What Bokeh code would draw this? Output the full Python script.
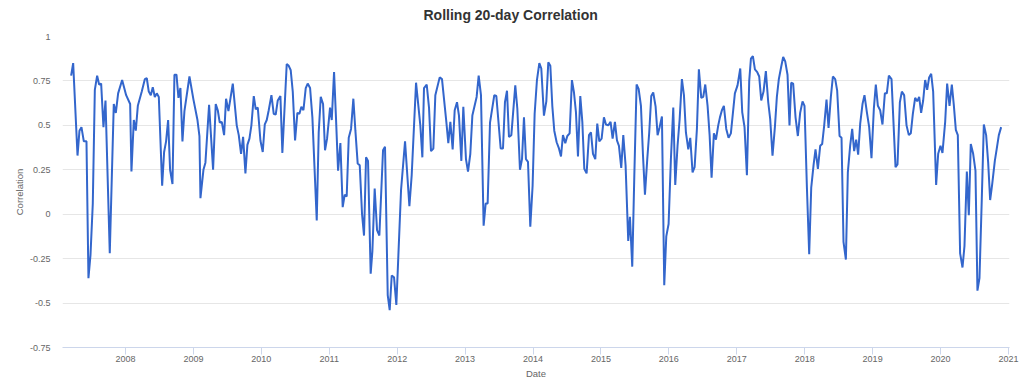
from bokeh.plotting import figure
from bokeh.models import Range1d, FixedTicker, CustomJSTickFormatter, ColumnDataSource, Title
from bokeh.embed import file_html
from bokeh.resources import INLINE

TITLE = "Rolling 20-day Correlation"
X_LABEL = "Date"
Y_LABEL = "Correlation"

# Dates as decimal years
dates = [
    2007.200, 2007.230, 2007.294, 2007.323, 2007.352, 2007.387, 2007.426, 2007.455, 2007.485, 2007.519,
    2007.549, 2007.583, 2007.612, 2007.642, 2007.676, 2007.706, 2007.769, 2007.828, 2007.858, 2007.892,
    2007.951, 2008.010, 2008.069, 2008.088, 2008.123, 2008.152, 2008.182, 2008.240, 2008.285, 2008.314,
    2008.343, 2008.373, 2008.402, 2008.432, 2008.461, 2008.491, 2008.540, 2008.569, 2008.598, 2008.628,
    2008.657, 2008.692, 2008.721, 2008.751, 2008.780, 2008.809, 2008.839, 2008.868, 2008.942, 2009.001,
    2009.060, 2009.089, 2009.104, 2009.148, 2009.177, 2009.231, 2009.290, 2009.329, 2009.359, 2009.388,
    2009.418, 2009.452, 2009.481, 2009.516, 2009.580, 2009.638, 2009.668, 2009.702, 2009.732, 2009.766,
    2009.795, 2009.825, 2009.854, 2009.889, 2009.918, 2009.948, 2009.987, 2010.021, 2010.051, 2010.080,
    2010.109, 2010.149, 2010.183, 2010.212, 2010.242, 2010.281, 2010.310, 2010.374, 2010.404, 2010.433,
    2010.463, 2010.497, 2010.531, 2010.561, 2010.590, 2010.620, 2010.654, 2010.683, 2010.718, 2010.752,
    2010.816, 2010.845, 2010.875, 2010.909, 2010.938, 2010.968, 2011.012, 2011.037, 2011.071, 2011.100,
    2011.130, 2011.164, 2011.198, 2011.228, 2011.257, 2011.287, 2011.321, 2011.355, 2011.385, 2011.419,
    2011.449, 2011.483, 2011.512, 2011.542, 2011.571, 2011.610, 2011.635, 2011.669, 2011.704, 2011.738,
    2011.792, 2011.821, 2011.861, 2011.890, 2011.920, 2011.954, 2011.988, 2012.057, 2012.116, 2012.180,
    2012.214, 2012.278, 2012.341, 2012.371, 2012.395, 2012.435, 2012.469, 2012.498, 2012.533, 2012.562,
    2012.626, 2012.660, 2012.724, 2012.753, 2012.783, 2012.817, 2012.847, 2012.881, 2012.910, 2012.945,
    2012.974, 2013.013, 2013.043, 2013.077, 2013.107, 2013.170, 2013.200, 2013.234, 2013.273, 2013.303,
    2013.332, 2013.367, 2013.430, 2013.460, 2013.524, 2013.558, 2013.587, 2013.617, 2013.646, 2013.681,
    2013.739, 2013.769, 2013.808, 2013.838, 2013.867, 2013.896, 2013.926, 2013.960, 2013.994, 2014.024,
    2014.058, 2014.093, 2014.122, 2014.161, 2014.196, 2014.225, 2014.255, 2014.284, 2014.313, 2014.348,
    2014.382, 2014.412, 2014.441, 2014.475, 2014.505, 2014.539, 2014.573, 2014.603, 2014.632, 2014.662,
    2014.696, 2014.726, 2014.755, 2014.789, 2014.824, 2014.853, 2014.883, 2014.917, 2014.946, 2014.976,
    2015.010, 2015.044, 2015.074, 2015.108, 2015.142, 2015.172, 2015.206, 2015.236, 2015.265, 2015.299,
    2015.329, 2015.363, 2015.402, 2015.427, 2015.461, 2015.491, 2015.525, 2015.555, 2015.589, 2015.618,
    2015.648, 2015.682, 2015.711, 2015.741, 2015.770, 2015.805, 2015.834, 2015.864, 2015.898, 2015.932,
    2015.962, 2015.996, 2016.030, 2016.065, 2016.094, 2016.128, 2016.158, 2016.192, 2016.222, 2016.251,
    2016.286, 2016.315, 2016.349, 2016.379, 2016.413, 2016.442, 2016.477, 2016.506, 2016.536, 2016.570,
    2016.600, 2016.629, 2016.663, 2016.693, 2016.727, 2016.752, 2016.781, 2016.810, 2016.845, 2016.879,
    2016.913, 2016.972, 2017.011, 2017.051, 2017.080, 2017.114, 2017.149, 2017.183, 2017.208, 2017.237,
    2017.267, 2017.301, 2017.330, 2017.360, 2017.394, 2017.428, 2017.463, 2017.492, 2017.526, 2017.561,
    2017.590, 2017.619, 2017.654, 2017.683, 2017.713, 2017.747, 2017.776, 2017.801, 2017.830, 2017.865,
    2017.899, 2017.933, 2017.968, 2017.997, 2018.032, 2018.066, 2018.096, 2018.130, 2018.159, 2018.194,
    2018.228, 2018.257, 2018.287, 2018.321, 2018.351, 2018.385, 2018.415, 2018.449, 2018.478, 2018.513,
    2018.542, 2018.571, 2018.606, 2018.635, 2018.669, 2018.699, 2018.728, 2018.758, 2018.787, 2018.817,
    2018.851, 2018.880, 2018.915, 2018.949, 2018.983, 2019.018, 2019.047, 2019.077, 2019.111, 2019.145,
    2019.180, 2019.209, 2019.239, 2019.278, 2019.337, 2019.366, 2019.401, 2019.430, 2019.464, 2019.499,
    2019.533, 2019.562, 2019.592, 2019.626, 2019.656, 2019.685, 2019.714, 2019.744, 2019.773, 2019.803,
    2019.832, 2019.862, 2019.891, 2019.935, 2019.965, 2019.999, 2020.028, 2020.068, 2020.097, 2020.132,
    2020.166, 2020.195, 2020.225, 2020.254, 2020.288, 2020.323, 2020.352, 2020.387, 2020.416, 2020.445,
    2020.480, 2020.514, 2020.543, 2020.573, 2020.607, 2020.637, 2020.671, 2020.701, 2020.730, 2020.759,
    2020.799, 2020.828, 2020.858, 2020.892,
]

correlation = [
    0.78, 0.85, 0.33, 0.47, 0.49, 0.41, 0.41, -0.36, -0.23, 0.06,
    0.70, 0.78, 0.73, 0.735, 0.49, 0.64, -0.22, 0.62, 0.57, 0.68,
    0.755, 0.67, 0.62, 0.24, 0.53, 0.47, 0.61, 0.69, 0.76, 0.765,
    0.69, 0.67, 0.715, 0.66, 0.68, 0.66, 0.16, 0.35, 0.41, 0.53,
    0.25, 0.17, 0.785, 0.785, 0.655, 0.71, 0.41, 0.58, 0.775, 0.645,
    0.53, 0.44, 0.09, 0.25, 0.29, 0.615, 0.25, 0.62, 0.585, 0.515,
    0.52, 0.445, 0.65, 0.58, 0.735, 0.50, 0.445, 0.34, 0.435, 0.23,
    0.39, 0.425, 0.50, 0.665, 0.59, 0.60, 0.415, 0.35, 0.505, 0.53,
    0.585, 0.67, 0.565, 0.56, 0.64, 0.665, 0.345, 0.845, 0.835, 0.81,
    0.69, 0.415, 0.57, 0.565, 0.605, 0.585, 0.71, 0.735, 0.71, 0.545,
    -0.035, 0.46, 0.66, 0.62, 0.36, 0.425, 0.60, 0.53, 0.80, 0.535,
    0.245, 0.40, 0.04, 0.11, 0.10, 0.43, 0.48, 0.65, 0.47, 0.285,
    0.275, 0.0, -0.12, 0.32, 0.30, -0.335, -0.21, 0.145, -0.09, -0.12,
    0.36, 0.38, -0.455, -0.54, -0.345, -0.355, -0.51, 0.135, 0.41, 0.045,
    0.22, 0.74, 0.50, 0.32, 0.71, 0.73, 0.60, 0.355, 0.37, 0.67,
    0.77, 0.76, 0.52, 0.40, 0.52, 0.365, 0.585, 0.63, 0.555, 0.30,
    0.605, 0.31, 0.24, 0.34, 0.555, 0.66, 0.78, 0.67, -0.065, 0.06,
    0.06, 0.515, 0.67, 0.665, 0.37, 0.37, 0.63, 0.695, 0.435, 0.445,
    0.725, 0.595, 0.25, 0.31, 0.545, 0.31, 0.295, -0.07, 0.16, 0.565,
    0.755, 0.85, 0.82, 0.555, 0.635, 0.855, 0.835, 0.61, 0.47, 0.405,
    0.37, 0.325, 0.445, 0.40, 0.44, 0.455, 0.755, 0.685, 0.575, 0.325,
    0.665, 0.52, 0.255, 0.23, 0.445, 0.46, 0.34, 0.31, 0.51, 0.41,
    0.425, 0.545, 0.505, 0.50, 0.52, 0.425, 0.52, 0.415, 0.385, 0.26,
    0.445, 0.275, -0.15, -0.015, -0.295, 0.21, 0.73, 0.705, 0.61, 0.34,
    0.11, 0.31, 0.46, 0.665, 0.685, 0.605, 0.445, 0.49, 0.55, -0.40,
    -0.125, -0.055, 0.31, 0.60, 0.165, 0.385, 0.53, 0.76, 0.67, 0.46,
    0.365, 0.43, 0.235, 0.265, 0.48, 0.815, 0.655, 0.66, 0.73, 0.61,
    0.445, 0.205, 0.455, 0.42, 0.50, 0.545, 0.585, 0.61, 0.48, 0.43,
    0.455, 0.68, 0.725, 0.82, 0.575, 0.49, 0.22, 0.75, 0.875, 0.89,
    0.815, 0.80, 0.775, 0.64, 0.69, 0.805, 0.63, 0.535, 0.33, 0.49,
    0.66, 0.76, 0.83, 0.885, 0.86, 0.785, 0.50, 0.74, 0.735, 0.545,
    0.44, 0.57, 0.635, 0.61, 0.155, -0.225, 0.15, 0.275, 0.365, 0.255,
    0.385, 0.395, 0.50, 0.645, 0.485, 0.66, 0.775, 0.76, 0.695, 0.44,
    0.43, -0.155, -0.255, 0.235, 0.385, 0.48, 0.355, 0.42, 0.335, 0.51,
    0.62, 0.67, 0.575, 0.49, 0.315, 0.595, 0.73, 0.61, 0.585, 0.505,
    0.68, 0.68, 0.78, 0.76, 0.265, 0.28, 0.63, 0.69, 0.67, 0.50,
    0.445, 0.455, 0.565, 0.655, 0.635, 0.66, 0.57, 0.64, 0.755, 0.70,
    0.77, 0.79, 0.69, 0.165, 0.34, 0.385, 0.345, 0.52, 0.735, 0.61,
    0.73, 0.615, 0.475, 0.445, -0.22, -0.30, -0.18, 0.24, -0.005, 0.395,
    0.34, 0.245, -0.43, -0.36, 0.085, 0.505, 0.445, 0.29, 0.08, 0.165,
    0.30, 0.37, 0.445, 0.49,
]

year_ticks = [2008, 2009, 2010, 2011, 2012, 2013, 2014, 2015, 2016, 2017, 2018, 2019, 2020, 2021]
corr_ticks = [-0.75, -0.5, -0.25, 0, 0.25, 0.5, 0.75, 1]

source = ColumnDataSource(data=dict(date=dates, corr=correlation))

FONT = "Liberation Sans"

p = figure(
    width=1024, height=387,
    output_backend="svg", toolbar_location=None,
    x_range=Range1d(2007.073, 2021.015),
    y_range=Range1d(-0.75, 1.0),
    min_border_left=62, min_border_right=15, min_border_top=36, min_border_bottom=40,
    title=None,
)
p.outline_line_color = None
p.background_fill_color = "white"
p.border_fill_color = "white"

# an empty spacer just above the plot, then the real title above it
p.add_layout(Title(text=" ", text_font_size="1px", standoff=11), "above")
p.add_layout(Title(
    text=TITLE, text_font=FONT, text_font_size="14px", text_font_style="bold",
    text_color="#333333", align="left", offset=361, standoff=0,
), "above")

p.line("date", "corr", source=source, line_color="#3366cc", line_width=2)

# x axis
p.xaxis.ticker = FixedTicker(ticks=year_ticks)
p.xaxis.formatter = CustomJSTickFormatter(code="return Math.round(tick).toString();")
p.xaxis.axis_label = X_LABEL
p.xaxis.axis_line_color = "#ccd6eb"
p.xaxis.major_tick_line_color = "#ccd6eb"
p.xaxis.major_tick_out = 7
p.xaxis.major_tick_in = 0
p.xaxis.minor_tick_line_color = None
p.xaxis.major_label_standoff = 1
p.xaxis.axis_label_standoff = 3
p.xgrid.grid_line_color = None

# y axis
p.yaxis.ticker = FixedTicker(ticks=corr_ticks)
p.yaxis.formatter = CustomJSTickFormatter(code="return tick.toString();")
p.yaxis.axis_label = Y_LABEL
p.yaxis.axis_line_color = None
p.yaxis.major_tick_line_color = None
p.yaxis.minor_tick_line_color = None
p.yaxis.major_tick_out = 0
p.yaxis.major_tick_in = 0
p.yaxis.major_label_standoff = 12
p.yaxis.axis_label_standoff = 2
p.ygrid.grid_line_color = "#e6e6e6"
p.ygrid.grid_line_width = 1

for ax in (p.xaxis, p.yaxis):
    ax.major_label_text_font = FONT
    ax.major_label_text_font_size = "9px"
    ax.major_label_text_color = "#666666"
    ax.axis_label_text_font = FONT
    ax.axis_label_text_font_size = "9.5px"
    ax.axis_label_text_font_style = "normal"
    ax.axis_label_text_color = "#666666"

open("out.html", "w").write(file_html(p, INLINE))
